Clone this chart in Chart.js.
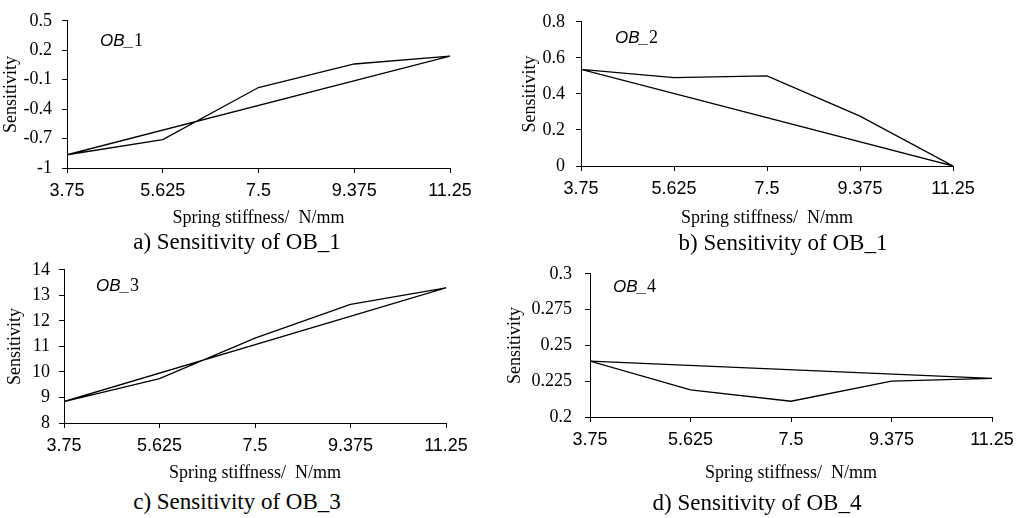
<!DOCTYPE html>
<html>
<head>
<meta charset="utf-8">
<script src="https://cdn.jsdelivr.net/npm/chart.js@4/dist/chart.umd.min.js"></script>
<style>
    body { margin: 0; background: #fff; }
    #page { position: relative; width: 1030px; height: 518px; overflow: hidden; }
    canvas { position: absolute; }
    .caption {
        position: absolute;
        width: 400px;
        text-align: center;
        font: 23px "Liberation Serif", "Times New Roman", serif;
        line-height: 23px;
        color: #000;
        white-space: pre;
    }
</style>
</head>
<body>
<div id="page">
    <canvas id="chart_a" width="505" height="232" style="left:0px;top:0px"></canvas>
    <canvas id="chart_b" width="520" height="232" style="left:510px;top:0px"></canvas>
    <canvas id="chart_c" width="505" height="234" style="left:0px;top:250px"></canvas>
    <canvas id="chart_d" width="530" height="234" style="left:500px;top:250px"></canvas>
    <div class="caption" style="left:37px;top:230px">a) Sensitivity of OB_1</div>
    <div class="caption" style="left:583px;top:231px">b) Sensitivity of OB_1</div>
    <div class="caption" style="left:37px;top:490px">c) Sensitivity of OB_3</div>
    <div class="caption" style="left:557px;top:491px">d) Sensitivity of OB_4</div>
</div>
<script>
// spring stiffness values (N/mm)
const stiffness = [3.75, 5.625, 7.5, 9.375, 11.25];

// sensitivity
const ob1 = [-0.865, -0.71, -0.18, 0.06, 0.14];
const ob2 = [0.536, 0.49, 0.50, 0.277, 0];
const ob3 = [8.84, 9.74, 11.32, 12.65, 13.29];
const ob4 = [0.239, 0.219, 0.211, 0.225, 0.227];

// tick labels
const xTicks = [3.75, 5.625, 7.5, 9.375, 11.25];
const yTicksA = [-1, -0.7, -0.4, -0.1, 0.2, 0.5];
const yTicksB = [0, 0.2, 0.4, 0.6, 0.8];
const yTicksC = [8, 9, 10, 11, 12, 13, 14];
const yTicksD = [0.2, 0.225, 0.25, 0.275, 0.3];

const labels = ['1', '2', '3', '4'];

Chart.defaults.color = '#000';

const serif = '"Liberation Serif", "Times New Roman", serif';
const sans = '"Liberation Sans", Arial, sans-serif';

// writes the italic "OB_n" tag inside the plot area
const tagPlugin = {
    id: 'obTag',
    afterDraw(chart, args, opts) {
        const { ctx, chartArea } = chart;
        const x = chartArea.left + opts.dx;
        const y = chartArea.top + opts.dy;
        ctx.save();
        ctx.fillStyle = '#000';
        ctx.textBaseline = 'middle';
        ctx.textAlign = 'left';
        ctx.font = 'italic 17px ' + sans;
        ctx.fillText('OB_', x, y);
        const w = ctx.measureText('OB_').width;
        ctx.font = '18px ' + serif;
        ctx.fillText(opts.num, x + w, y);
        ctx.restore();
    }
};

const loop = (ys) => {
    const pts = stiffness.map((x, i) => ({ x: x, y: ys[i] }));
    pts.push({ x: stiffness[0], y: ys[0] });
    return pts;
};

const makeChart = (id, ys, yTicks, p) => {
    const ctx = document.getElementById(id).getContext('2d');
    return new Chart(ctx, {
        type: 'line',
        data: {
            datasets: [{
                data: loop(ys),
                borderColor: '#000',
                borderWidth: 1.3,
                pointRadius: 0,
                tension: 0,
                fill: false
            }]
        },
        plugins: [tagPlugin],
        options: {
            responsive: false,
            animation: false,
            layout: { padding: { left: 0, top: p.padTop, right: p.padRight, bottom: 0 } },
            plugins: {
                legend: { display: false },
                tooltip: { enabled: false },
                obTag: { dx: p.tagX, dy: p.tagY, num: p.num }
            },
            scales: {
                x: {
                    type: 'linear',
                    min: xTicks[0],
                    max: xTicks[xTicks.length - 1],
                    afterBuildTicks: s => { s.ticks = xTicks.map(v => ({ value: v })); },
                    afterFit: s => { s.height = p.xHeight; },
                    grid: { drawOnChartArea: false, tickLength: 5, color: '#000' },
                    border: { color: '#000', width: 1 },
                    ticks: {
                        padding: 7,
                        maxRotation: 0,
                        autoSkip: false,
                        font: { family: sans, size: 18 },
                        callback: v => String(v)
                    },
                    title: {
                        display: true,
                        text: 'Spring stiffness/  N/mm',
                        font: { family: serif, size: 18 },
                        padding: { top: 0, bottom: p.xTitlePad }
                    }
                },
                y: {
                    min: yTicks[0],
                    max: yTicks[yTicks.length - 1],
                    afterBuildTicks: s => { s.ticks = yTicks.map(v => ({ value: v })); },
                    afterFit: s => { s.width = p.yWidth; },
                    grid: { drawOnChartArea: false, tickLength: 5, color: '#000' },
                    border: { color: '#000', width: 1 },
                    ticks: {
                        padding: p.yPad,
                        autoSkip: false,
                        font: { family: serif, size: 18 },
                        callback: v => String(v)
                    },
                    title: {
                        display: true,
                        text: 'Sensitivity',
                        font: { family: serif, size: 18 },
                        padding: { top: p.yTitlePad, bottom: 0 }
                    }
                }
            }
        }
    });
};

const onload = () => {
    makeChart('chart_a', ob1, yTicksA, {
        padTop: 13, padRight: 55, yWidth: 67, xHeight: 64, xTitlePad: 3,
        yPad: 10, yTitlePad: 0, tagX: 33, tagY: 20, num: labels[0]
    });
    makeChart('chart_b', ob2, yTicksB, {
        padTop: 12, padRight: 77, yWidth: 71, xHeight: 66, xTitlePad: 3,
        yPad: 11, yTitlePad: 9, tagX: 34, tagY: 16, num: labels[1]
    });
    makeChart('chart_c', ob3, yTicksC, {
        padTop: 17, padRight: 59, yWidth: 64, xHeight: 61, xTitlePad: 0,
        yPad: 9, yTitlePad: 4, tagX: 32, tagY: 16, num: labels[2]
    });
    makeChart('chart_d', ob4, yTicksD, {
        padTop: 17, padRight: 38, yWidth: 90, xHeight: 67, xTitlePad: 0,
        yPad: 13, yTitlePad: 4, tagX: 23, tagY: 13, num: labels[3]
    });
};

document.addEventListener('DOMContentLoaded', onload);
</script>
</body>
</html>
